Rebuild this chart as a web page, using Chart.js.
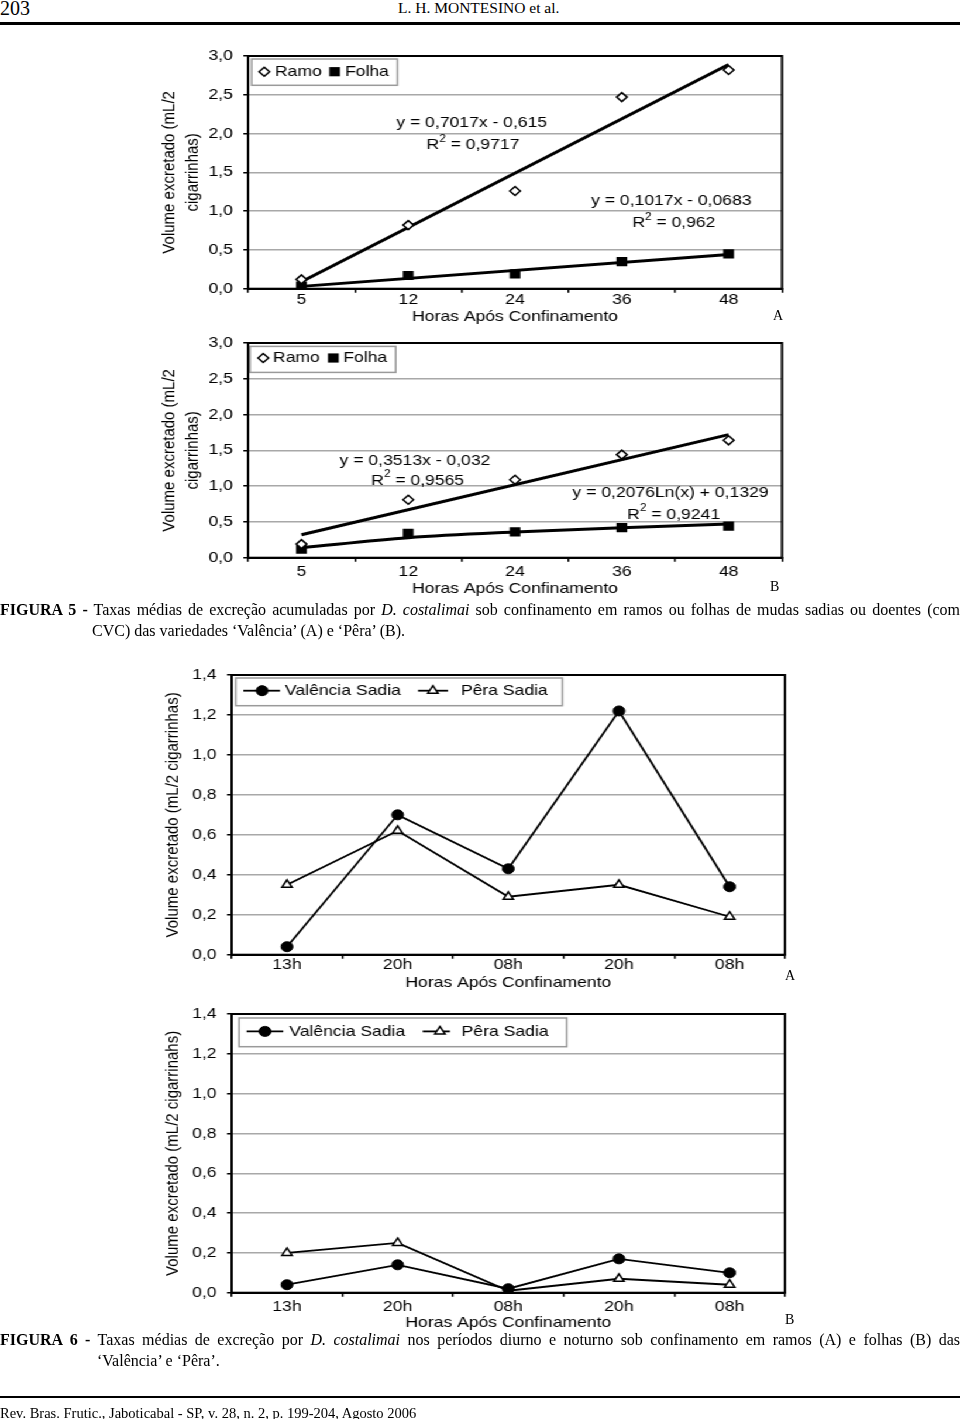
<!DOCTYPE html>
<html>
<head>
<meta charset="utf-8">
<script src="https://cdn.jsdelivr.net/npm/chart.js@4.4.1/dist/chart.umd.min.js"></script>
<style>
html,body{margin:0;padding:0;background:#fff;}
body{width:960px;height:1419px;position:relative;overflow:hidden;font-family:"Liberation Serif","Times New Roman",serif;color:#000;}
#stretch{position:absolute;left:0;top:0;width:821px;height:1419px;transform:scaleX(1.17);transform-origin:0 0;}
#stretch canvas{position:absolute;}
.t{position:absolute;white-space:nowrap;}
.cap{position:absolute;left:0;width:960px;font-size:16px;line-height:16px;text-align:justify;text-align-last:justify;}
.rule{position:absolute;left:0;width:960px;background:#000;}
</style>
</head>
<body>
<div class="t" style="left:0;top:-2px;font-size:20px;line-height:20px;">203</div>
<div class="t" style="left:398px;top:0px;font-size:15.5px;line-height:15.5px;">L. H. MONTESINO et al.</div>
<div class="rule" style="top:22px;height:2.5px;"></div>

<div id="stretch">
  <canvas id="c1" width="580" height="300" style="left:110px;top:36px;"></canvas>
  <canvas id="c2" width="580" height="282" style="left:110px;top:323.3px;"></canvas>
  <canvas id="c3" width="580" height="340" style="left:110px;top:655.3px;"></canvas>
  <canvas id="c4" width="580" height="340" style="left:110px;top:994.3px;"></canvas>
</div>

<div class="t" style="left:773px;top:309px;font-size:14px;line-height:14px;">A</div>
<div class="t" style="left:770px;top:580px;font-size:14px;line-height:14px;">B</div>
<div class="t" style="left:785px;top:969px;font-size:14px;line-height:14px;">A</div>
<div class="t" style="left:785px;top:1313px;font-size:14px;line-height:14px;">B</div>

<div class="cap" style="top:601.5px;"><b>FIGURA 5 -</b> Taxas médias de excreção acumuladas por <i>D. costalimai</i> sob confinamento em ramos ou folhas de mudas sadias ou doentes (com</div>
<div class="t" style="left:92px;top:622.5px;font-size:16px;line-height:16px;">CVC) das variedades ‘Valência’ (A) e ‘Pêra’ (B).</div>

<div class="cap" style="top:1331.5px;"><b>FIGURA 6 -</b> Taxas médias de excreção por <i>D. costalimai</i> nos períodos diurno e noturno sob confinamento em ramos (A) e folhas (B) das</div>
<div class="t" style="left:97px;top:1353px;font-size:16px;line-height:16px;">‘Valência’ e ‘Pêra’.</div>

<div class="rule" style="top:1396px;height:2px;"></div>
<div class="t" style="left:0;top:1405.5px;font-size:14.5px;line-height:14.5px;">Rev. Bras. Frutic., Jaboticabal - SP, v. 28, n. 2, p. 199-204, Agosto 2006</div>

<script>
// ---------- data ----------
const hoursFig5 = ['5', '12', '24', '36', '48'];
const ramoA = [0.12, 0.82, 1.26, 2.47, 2.82];
const folhaA = [0.035, 0.17, 0.19, 0.35, 0.45];
const ramoTrendA = [0.09, null, null, null, 2.89];
const folhaTrendA = [0.03, null, null, null, 0.44];
const ramoB = [0.19, 0.81, 1.09, 1.44, 1.64];
const folhaB = [0.12, 0.34, 0.36, 0.42, 0.44];
const ramoTrendB = [0.32, null, null, null, 1.72];
const folhaTrendB = [0.14, 0.28, 0.36, 0.42, 0.47];

const periodsFig6 = ['13h', '20h', '08h', '20h', '08h'];
const valenciaA = [0.04, 0.70, 0.43, 1.22, 0.34];
const peraA = [0.35, 0.62, 0.29, 0.35, 0.19];
const valenciaB = [0.04, 0.14, 0.02, 0.17, 0.10];
const peraB = [0.20, 0.25, 0.01, 0.07, 0.04];

const xTitle = 'Horas Após Confinamento';
const yTitle5 = ['Volume excretado (mL/2', 'cigarrinhas)'];
const yTitle6A = 'Volume excretado (mL/2 cigarrinhas)';
const yTitle6B = 'Volume excretado (mL/2 cigarrinahs)';
const eqs5A = ['y = 0,7017x - 0,615', 'R^2 = 0,9717', 'y = 0,1017x - 0,0683', 'R^2 = 0,962'];
const eqs5B = ['y = 0,3513x - 0,032', 'R^2 = 0,9565', 'y = 0,2076Ln(x) + 0,1329', 'R^2 = 0,9241'];

// ---------- helpers ----------
const FONT = "'Liberation Sans', Arial, Helvetica, sans-serif";
const fmt = v => Number(v).toFixed(1).replace('.', ',');

const decorPlugin = {
  id: 'decor',
  afterDraw(chart, args, opts) {
    const ctx = chart.ctx, a = chart.chartArea;
    ctx.save();
    ctx.strokeStyle = '#000';
    ctx.lineWidth = 2;
    ctx.strokeRect(a.left, a.top, a.right - a.left, a.bottom - a.top);
    const L = opts.legend;
    if (L) {
      ctx.fillStyle = '#fff';
      ctx.fillRect(a.left + L.x, a.top + L.y, L.w, L.h);
      ctx.strokeStyle = '#9a9a9a';
      ctx.lineWidth = 1.5;
      ctx.strokeRect(a.left + L.x, a.top + L.y, L.w, L.h);
      const y = a.top + L.ty;
      L.items.forEach(it => {
        const ds = chart.data.datasets[it.ds];
        if (it.line) {
          ctx.strokeStyle = '#000';
          ctx.lineWidth = ds.borderWidth;
          ctx.beginPath();
          ctx.moveTo(a.left + it.line[0], y);
          ctx.lineTo(a.left + it.line[1], y);
          ctx.stroke();
        }
        ctx.fillStyle = ds.pointBackgroundColor;
        ctx.strokeStyle = ds.pointBorderColor;
        ctx.lineWidth = ds.pointBorderWidth;
        Chart.helpers.drawPoint(ctx, {pointStyle: ds.pointStyle, radius: ds.pointRadius, rotation: 0, borderWidth: ds.pointBorderWidth}, a.left + it.mx, y);
        ctx.fillStyle = '#000';
        ctx.font = '15px ' + FONT;
        ctx.textAlign = 'left';
        ctx.textBaseline = 'middle';
        ctx.fillText(ds.label, a.left + it.tx, y);
      });
    }
    (opts.notes || []).forEach(n => {
      const parts = [];
      const m = n.text.split('^');
      parts.push({t: m[0], sup: false});
      if (m.length > 1) {
        parts.push({t: m[1].charAt(0), sup: true});
        parts.push({t: m[1].slice(1), sup: false});
      }
      let total = 0;
      parts.forEach(p => {
        ctx.font = (p.sup ? '10px ' : '15px ') + FONT;
        p.w = ctx.measureText(p.t).width;
        total += p.w;
      });
      let x = a.left + n.x - total / 2;
      ctx.fillStyle = '#000';
      ctx.textAlign = 'left';
      ctx.textBaseline = 'middle';
      parts.forEach(p => {
        ctx.font = (p.sup ? '10px ' : '15px ') + FONT;
        ctx.fillText(p.t, x, a.top + n.y - (p.sup ? 6 : 0));
        x += p.w;
      });
    });
    ctx.restore();
  }
};
Chart.register(decorPlugin);

function options(p) {
  return {
    responsive: false, animation: false, devicePixelRatio: 1,
    layout: {padding: {left: 0, right: p.pr, top: 20, bottom: 0}},
    plugins: {legend: {display: false}, tooltip: {enabled: false}, decor: p.decor},
    scales: {
      x: {
        type: 'category', offset: true,
        grid: {offset: true, drawOnChartArea: false, drawTicks: true, tickLength: 4, color: '#000', lineWidth: 1.5},
        border: {display: true, color: '#000', width: 2},
        ticks: {color: '#000', font: {family: FONT, size: 15, lineHeight: 1}, padding: p.xtp, maxRotation: 0, minRotation: 0, autoSkip: false},
        title: {display: true, text: xTitle, color: '#000', font: {family: FONT, size: 15, lineHeight: 1.2}, padding: {top: 0, bottom: p.xtb}},
        afterFit(s) { s.height = p.xh; }
      },
      y: {
        min: 0, max: p.ymax,
        ticks: {stepSize: p.step, color: '#000', font: {family: FONT, size: 15, lineHeight: 1.2}, padding: 9, callback: v => fmt(v)},
        grid: {color: '#a8a8a8', lineWidth: 1.5, drawTicks: true, tickLength: 4, tickColor: '#000', tickWidth: 1.5},
        border: {display: true, color: '#000', width: 2},
        title: {display: true, text: p.ytitle, color: '#000', font: {family: FONT, size: 15, lineHeight: 1.3}, padding: {top: p.ytp, bottom: 0}},
        afterFit(s) { s.width = p.yw; }
      }
    }
  };
}

function fig5Datasets(ramo, folha, ramoT, folhaT, curved) {
  return [
    {label: 'Ramo', data: ramo, showLine: false, pointStyle: 'rectRot', pointRadius: 4.5, pointHoverRadius: 4.5,
     pointBackgroundColor: '#fff', pointBorderColor: '#000', pointBorderWidth: 1.5, borderColor: '#000', backgroundColor: '#fff'},
    {label: 'Folha', data: folha, showLine: false, pointStyle: 'rect', pointRadius: 6.5, pointHoverRadius: 6.5,
     pointBackgroundColor: '#000', pointBorderColor: '#000', pointBorderWidth: 0, borderColor: '#000', backgroundColor: '#000'},
    {label: 'Tendência Ramo', data: ramoT, spanGaps: true, borderColor: '#000', borderWidth: 3, pointRadius: 0, fill: false},
    {label: 'Tendência Folha', data: folhaT, spanGaps: true, borderColor: '#000', borderWidth: 3, pointRadius: 0, fill: false,
     cubicInterpolationMode: curved ? 'monotone' : 'default'}
  ];
}

function fig6Datasets(val, pera) {
  return [
    {label: 'Valência Sadia', data: val, borderColor: '#000', borderWidth: 1.8, pointStyle: 'circle', pointRadius: 5, pointHoverRadius: 5,
     pointBackgroundColor: '#000', pointBorderColor: '#000', pointBorderWidth: 1, backgroundColor: '#000', fill: false},
    {label: 'Pêra Sadia', data: pera, borderColor: '#000', borderWidth: 1.8, pointStyle: 'triangle', pointRadius: 5, pointHoverRadius: 5,
     pointBackgroundColor: '#fff', pointBorderColor: '#000', pointBorderWidth: 1.5, backgroundColor: '#fff', fill: false}
  ];
}

new Chart(document.getElementById('c1'), {
  type: 'line',
  data: {labels: hoursFig5, datasets: fig5Datasets(ramoA, folhaA, ramoTrendA, folhaTrendA, false)},
  options: options({
    pr: 21.6, xh: 47.3, xtp: 0, xtb: 10, ymax: 3, step: 0.5, ytitle: yTitle5, ytp: 25.5, yw: 102,
    decor: {
      legend: {x: 3.1, y: 3, w: 124.5, h: 26.3, ty: 15.7, items: [{ds: 0, mx: 13.9, tx: 23}, {ds: 1, mx: 74, tx: 82.9}]},
      notes: [{text: eqs5A[0], x: 191.2, y: 67.3}, {text: eqs5A[1], x: 192.3, y: 89},
              {text: eqs5A[2], x: 361.8, y: 145}, {text: eqs5A[3], x: 363.9, y: 167.3}]
    }
  })
});

new Chart(document.getElementById('c2'), {
  type: 'line',
  data: {labels: hoursFig5, datasets: fig5Datasets(ramoB, folhaB, ramoTrendB, folhaTrendB, true)},
  options: options({
    pr: 21.6, xh: 47.3, xtp: 2.5, xtb: 7.3, ymax: 3, step: 0.5, ytitle: yTitle5, ytp: 25.5, yw: 102,
    decor: {
      legend: {x: 1.7, y: 3.4, w: 124.5, h: 26, ty: 15, items: [{ds: 0, mx: 13, tx: 21.3}, {ds: 1, mx: 72.9, tx: 81.4}]},
      notes: [{text: eqs5B[0], x: 142.7, y: 117.7}, {text: eqs5B[1], x: 145, y: 137.7},
              {text: eqs5B[2], x: 361.1, y: 150}, {text: eqs5B[3], x: 363.8, y: 171.7}]
    }
  })
});

new Chart(document.getElementById('c3'), {
  type: 'line',
  data: {labels: periodsFig6, datasets: fig6Datasets(valenciaA, peraA)},
  options: options({
    pr: 19.1, xh: 40.3, xtp: -1, xtb: 3, ymax: 1.4, step: 0.2, ytitle: yTitle6A, ytp: 28.4, yw: 88,
    decor: {
      legend: {x: 3.5, y: 3, w: 279.1, h: 27.7, ty: 15.7,
               items: [{ds: 0, mx: 26, tx: 45.6, line: [10, 41.3]}, {ds: 1, mx: 172, tx: 196, line: [159.3, 184.9]}]}
    }
  })
});

new Chart(document.getElementById('c4'), {
  type: 'line',
  data: {labels: periodsFig6, datasets: fig6Datasets(valenciaB, peraB)},
  options: options({
    pr: 19.1, xh: 41.3, xtp: 2.2, xtb: 2, ymax: 1.4, step: 0.2, ytitle: yTitle6B, ytp: 28.4, yw: 88,
    decor: {
      legend: {x: 6.3, y: 4, w: 280.1, h: 28.7, ty: 17.4,
               items: [{ds: 0, mx: 28.5, tx: 49.3, line: [12.8, 44.1]}, {ds: 1, mx: 178, tx: 196.6, line: [163.3, 186.6]}]}
    }
  })
});
</script>
</body>
</html>
